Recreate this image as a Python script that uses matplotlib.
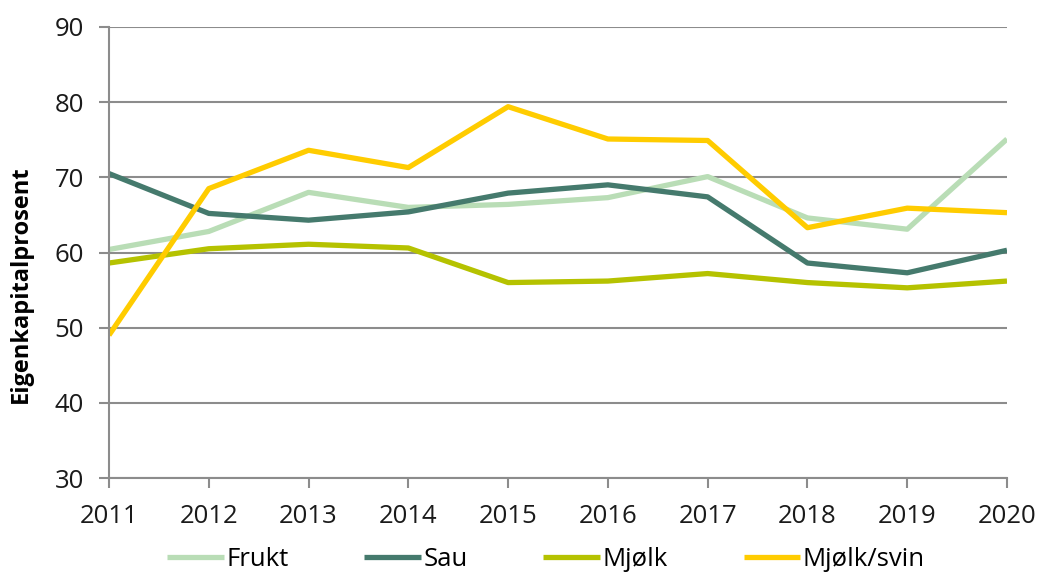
import matplotlib.pyplot as plt

# Data
years = [2011, 2012, 2013, 2014, 2015, 2016, 2017, 2018, 2019, 2020]
frukt = [60.4, 62.8, 68.0, 66.0, 66.4, 67.3, 70.1, 64.6, 63.1, 75.1]
sau = [70.5, 65.2, 64.3, 65.4, 67.9, 69.0, 67.4, 58.6, 57.3, 60.3]
mjolk = [58.6, 60.5, 61.1, 60.6, 56.0, 56.2, 57.2, 56.0, 55.3, 56.2]
mjolk_svin = [49.0, 68.5, 73.6, 71.3, 79.4, 75.1, 74.9, 63.3, 65.9, 65.3]

series = [
    ("Frukt", frukt, "#B9DDB6"),
    ("Sau", sau, "#457A6D"),
    ("Mjølk", mjolk, "#B5C200"),
    ("Mjølk/svin", mjolk_svin, "#FFCC00"),
]

plt.rcParams['font.family'] = ['Open Sans', 'DejaVu Sans']

fig = plt.figure(figsize=(10.41, 5.74), dpi=100)
ax = fig.add_axes([109 / 1041, 1 - 478 / 574, (1007 - 109) / 1041, (478 - 27) / 574])

for name, vals, color in series:
    ax.plot(years, vals, color=color, linewidth=3.8, label=name, solid_capstyle='butt')

ax.set_xlim(2011, 2020)
ax.set_ylim(30, 90)
ax.set_xticks(years)
ax.set_yticks(range(30, 91, 10))
ax.yaxis.grid(True, color='#8C8C8C', linewidth=1.5)
ax.set_axisbelow(True)

for side in ['top', 'right']:
    ax.spines[side].set_visible(False)
for side in ['left', 'bottom']:
    ax.spines[side].set_color('#8C8C8C')
    ax.spines[side].set_linewidth(1.5)

ax.tick_params(axis='both', colors='#8C8C8C', labelcolor='#1a1a1a',
               labelsize=18.5, width=1.5, length=7, direction='out')
ax.tick_params(axis='x', pad=12)
ax.tick_params(axis='y', pad=11)

ax.set_ylabel("Eigenkapitalprosent", fontsize=17, fontweight='bold')
ax.yaxis.set_label_coords(-0.0846, 0.43)

fig.legend(loc='center', bbox_to_anchor=(546 / 1041, 1 - 559 / 574), ncol=4, frameon=False,
           fontsize=18.5, handlelength=2.2, handletextpad=0.1, columnspacing=2.95,
           borderpad=0.1)

fig.savefig("out.png", dpi=100)
